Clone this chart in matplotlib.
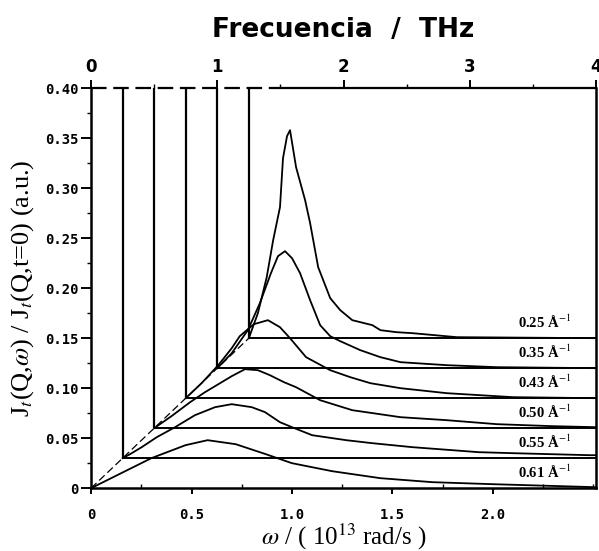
import numpy as np
import matplotlib.pyplot as plt
from matplotlib.ticker import FixedLocator, MultipleLocator, FuncFormatter

plt.rcParams['mathtext.fontset'] = 'stix'

# Q values of the spectra, back (top) to front (bottom)
q_values = ['0.25', '0.35', '0.43', '0.50', '0.55', '0.61']

# J_t(Q,w)/J_t(Q,t=0), w in 1e13 rad/s
w_025 = [0, 0.045, 0.089, 0.121, 0.155, 0.17, 0.19, 0.205, 0.235, 0.28, 0.305,
         0.345, 0.405, 0.455, 0.515, 0.575, 0.615, 0.655, 0.735, 0.815, 1.035, 1.728]
j_025 = [0, 0.025, 0.061, 0.098, 0.131, 0.18, 0.202, 0.208, 0.171, 0.138, 0.115,
         0.071, 0.040, 0.028, 0.018, 0.015, 0.013, 0.008, 0.006, 0.005, 0.001, 0.0]

w_035 = [0, 0.072, 0.152, 0.212, 0.267, 0.302, 0.337, 0.372, 0.412, 0.462, 0.512,
         0.562, 0.612, 0.712, 0.812, 0.912, 1.142, 1.392, 1.885]
j_035 = [0, 0.015, 0.038, 0.065, 0.095, 0.112, 0.117, 0.110, 0.095, 0.068, 0.043,
         0.032, 0.027, 0.018, 0.011, 0.006, 0.003, 0.001, 0.0]

w_043 = [0, 0.079, 0.162, 0.229, 0.269, 0.339, 0.409, 0.469, 0.519, 0.599, 0.719,
         0.819, 0.919, 1.069, 1.299, 1.629, 2.042]
j_043 = [0, 0.015, 0.033, 0.050, 0.062, 0.074, 0.078, 0.071, 0.060, 0.041, 0.028,
         0.021, 0.015, 0.010, 0.005, 0.001, 0.0]

w_050 = [0, 0.086, 0.179, 0.253, 0.328, 0.386, 0.452, 0.516, 0.576, 0.646, 0.706,
         0.826, 0.986, 1.226, 1.456, 1.706, 1.986, 2.199]
j_050 = [0, 0.012, 0.026, 0.036, 0.045, 0.052, 0.059, 0.058, 0.053, 0.046, 0.041,
         0.028, 0.018, 0.011, 0.008, 0.004, 0.002, 0.001]

w_055 = [0, 0.037, 0.095, 0.17, 0.261, 0.36, 0.46, 0.543, 0.643, 0.709, 0.783,
         0.843, 0.943, 1.113, 1.243, 1.443, 1.773, 1.943, 2.323, 2.356]
j_055 = [0, 0.004, 0.011, 0.021, 0.031, 0.043, 0.051, 0.054, 0.051, 0.046, 0.036,
         0.031, 0.023, 0.018, 0.015, 0.011, 0.006, 0.005, 0.003, 0.003]

w_061 = [0, 0.13, 0.30, 0.47, 0.58, 0.72, 0.87, 1.0, 1.2, 1.44, 1.7, 2.0, 2.51]
j_061 = [0, 0.013, 0.030, 0.043, 0.048, 0.044, 0.034, 0.025, 0.017, 0.010, 0.006,
         0.004, 0.001]

spectra = [(w_025, j_025), (w_035, j_035), (w_043, j_043),
           (w_050, j_050), (w_055, j_055), (w_061, j_061)]

# waterfall shift per spectrum: 0.25 THz along w, 0.03 along J
x_step = 2 * np.pi * 0.25 / 10
y_step = 0.03
x_max = 2 * np.pi * 4 / 10
y_max = 0.40

fig = plt.figure(figsize=(5.99, 5.51), dpi=100)
ax = fig.add_axes([0.152, 0.114, 0.843, 0.726])

n = len(spectra)
for i, (w, j) in enumerate(spectra):
    k = n - 1 - i
    xo, yo = k * x_step, k * y_step
    if k > 0:
        ax.vlines(xo, yo, y_max, color='black', lw=1.6, clip_on=False)
        ax.hlines(yo, xo, x_max, color='black', lw=1.4)
    ax.plot(np.array(w) + xo, np.array(j) + yo, color='black', lw=1.3)
    ax.text(2.39, yo + 0.016, q_values[i] + r' Å$^{-1}$', ha='right', va='center',
            fontsize=10.5, fontweight='bold', family='Liberation Serif')

ax.plot([0, (n - 1) * x_step], [0, (n - 1) * y_step], color='black', lw=0.9,
        ls=(0, (6, 3)))

# top frame line: dashed on the left, solid on the right
ax.hlines(y_max, 0, 0.94, color='black', lw=1.6, ls=(0, (7, 3)), clip_on=False)
ax.hlines(y_max, 0.94, x_max, color='black', lw=1.6, clip_on=False)

ax.set_xlim(0, x_max)
ax.set_ylim(0, y_max)
ax.spines['top'].set_visible(False)
for s in ['left', 'bottom', 'right']:
    ax.spines[s].set_linewidth(1.8)

ax.xaxis.set_major_locator(FixedLocator([0, 0.5, 1.0, 1.5, 2.0]))
ax.xaxis.set_minor_locator(MultipleLocator(0.25))
ax.xaxis.set_major_formatter(FuncFormatter(lambda v, p: '0' if v == 0 else f'{v:.1f}'))
ax.yaxis.set_major_locator(MultipleLocator(0.05))
ax.yaxis.set_minor_locator(MultipleLocator(0.025))
ax.yaxis.set_major_formatter(FuncFormatter(lambda v, p: '0' if v == 0 else f'{v:.2f}'))
ax.tick_params(axis='y', which='major', direction='out', length=7, width=1.4, pad=2)
ax.tick_params(axis='y', which='minor', direction='out', length=3, width=1)
ax.tick_params(axis='x', which='major', direction='out', length=4, width=1.4, pad=10)
ax.tick_params(axis='x', which='minor', direction='in', length=3, width=1)
for lab in ax.get_xticklabels() + ax.get_yticklabels():
    lab.set_family('DejaVu Sans Mono')
    lab.set_fontweight('bold')
    lab.set_fontsize(10)

ax.set_xlabel(r'$\omega$ / ( 10$^{13}$ rad/s )', family='Liberation Serif',
              fontsize=18, labelpad=0)
ax.set_ylabel(r'J$_t$(Q,$\omega$) / J$_t$(Q,t=0) (a.u.)', family='Liberation Serif',
              fontsize=19)
ax.yaxis.set_label_coords(-0.11, 0.5)

# top axis in THz
sec = ax.secondary_xaxis('top', functions=(lambda x: x * 10 / (2 * np.pi),
                                           lambda f: f * 2 * np.pi / 10))
sec.spines['top'].set_visible(False)
sec.xaxis.set_major_locator(FixedLocator([0, 1, 2, 3, 4]))
sec.xaxis.set_minor_locator(MultipleLocator(0.5))
sec.tick_params(which='major', direction='out', length=6, width=1.4, pad=3)
sec.tick_params(which='minor', direction='out', length=3, width=1)
for lab in sec.get_xticklabels():
    lab.set_fontweight('bold')
    lab.set_fontsize(12)
sec.set_xlabel('Frecuencia  /  THz', fontsize=19, fontweight='bold', labelpad=15)

fig.savefig('out.png', dpi=100)
